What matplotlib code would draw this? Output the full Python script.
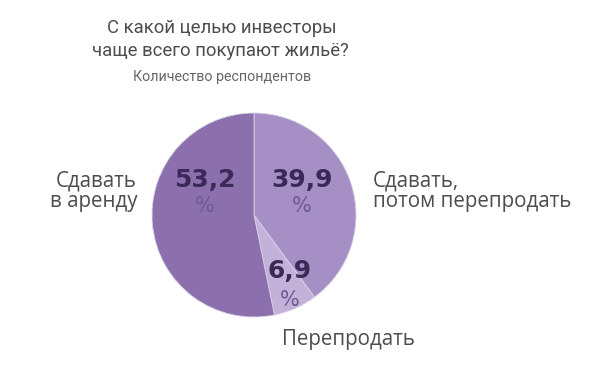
import matplotlib.pyplot as plt

# доли ответов, по часовой стрелке от верха
values = [39.9, 6.9, 53.2]
value_labels = ["39,9", "6,9", "53,2"]
categories = ["Сдавать,\nпотом перепродать", "Перепродать", "Сдавать\nв аренду"]
colors = ["#a58fc5", "#c2b2da", "#8c70ae"]

W, H = 600, 391
cx, cy, r = 254, 215, 102  # центр и радиус круга в пикселях

plt.rcParams['font.family'] = ['Open Sans', 'DejaVu Sans']
title_font = ['Roboto', 'DejaVu Sans']

fig = plt.figure(figsize=(W / 100, H / 100), dpi=100)
fig.patch.set_facecolor("white")

ax = fig.add_axes([(cx - r) / W, (H - cy - r) / H, 2 * r / W, 2 * r / H])
ax.pie(values, colors=colors, startangle=90, counterclock=False, radius=1,
       wedgeprops=dict(edgecolor="#d9cfe6", linewidth=0.6))
ax.set_xlim(-1, 1)
ax.set_ylim(-1, 1)
ax.set_aspect("equal")
ax.axis("off")


def px(x, y):
    return (x - cx) / r, (cy - y) / r


# подписи значений внутри круга
num_pos = [(302, 180), (290, 271), (205, 180)]
pct_off = [26, 29, 26]
for lab, (x, y), d in zip(value_labels, num_pos, pct_off):
    ax.text(*px(x, y), lab, ha="center", va="center", fontsize=18,
            fontweight="bold", color="#3b2a57", family="DejaVu Sans")
    ax.text(*px(x, y + d), "%", ha="center", va="center", fontsize=15,
            color="#6f5a93", family="DejaVu Sans")


def ftext(x, y, s, **kw):
    fig.text(x / W, 1 - y / H, s, **kw)


grey = "#4d4d4d"
ftext(222, 28, "С какой целью инвесторы", ha="center", va="center",
      fontsize=13.3, color=grey, family=title_font)
ftext(220, 51, "чаще всего покупают жильё?", ha="center", va="center",
      fontsize=13.3, color=grey, family=title_font)
ftext(222, 77, "Количество респондентов", ha="center", va="center",
      fontsize=10.3, color="#666666", family=title_font)

ftext(373, 191, categories[0], ha="left", va="center", fontsize=14.8,
      color=grey, linespacing=0.95)
ftext(282, 340, categories[1], ha="left", va="center", fontsize=14.8,
      color=grey)
ftext(137, 191, categories[2], ha="right", va="center", fontsize=14.8,
      color=grey, linespacing=0.95, multialignment="right")

fig.savefig("out.png", dpi=100, facecolor="white")
